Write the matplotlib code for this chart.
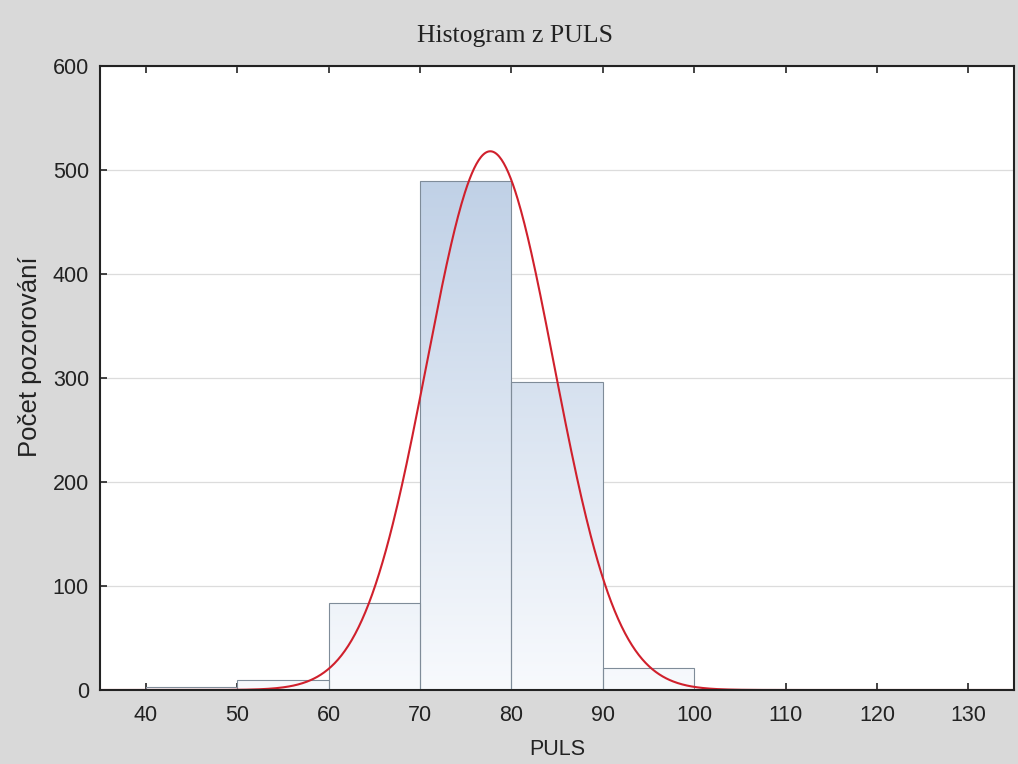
import numpy as np
import matplotlib
matplotlib.use("Agg")
import matplotlib.pyplot as plt
from matplotlib.colors import LinearSegmentedColormap

# Data
bin_edges = [40, 50, 60, 70, 80, 90, 100]
counts = [3, 10, 84, 489, 296, 21]
fit_mean = 77.7
fit_sd = 6.95
fit_peak = 518
x_ticks = [40, 50, 60, 70, 80, 90, 100, 110, 120, 130]
y_ticks = [0, 100, 200, 300, 400, 500, 600]

fig = plt.figure(figsize=(10.18, 7.64), dpi=100, facecolor="#d9d9d9")
ax = fig.add_axes([100/1018, 1-690/764, 914/1018, 624/764])
ax.set_facecolor("white")

# Gradient fill for bars
cmap = LinearSegmentedColormap.from_list("g", ["#f8fafd", "#bfd0e6"])
grad = np.linspace(0, 1, 256).reshape(-1, 1)
for i, c in enumerate(counts):
    left, right = bin_edges[i], bin_edges[i+1]
    rect = plt.Rectangle((left, 0), right-left, c, facecolor="none",
                         edgecolor="#7f8c99", linewidth=0.8, zorder=3)
    ax.add_patch(rect)
    im = ax.imshow(grad, extent=[35, 135, 0, 500], origin="lower", cmap=cmap,
                   aspect="auto", zorder=2)
    im.set_clip_path(rect)

ax.set_xlim(35, 135)
ax.set_ylim(0, 600)

# Fitted normal curve
xs = np.linspace(35, 135, 800)
ys = fit_peak * np.exp(-0.5 * ((xs - fit_mean) / fit_sd) ** 2)
ax.plot(xs, ys, color="#d0202c", linewidth=1.5, zorder=4)

ax.set_yticks(y_ticks)
ax.set_xticks(x_ticks)
ax.yaxis.grid(True, color="#dcdcdc", linewidth=0.9, zorder=0)
ax.set_axisbelow(True)
ax.tick_params(axis="x", direction="in", top=True, bottom=True, length=5,
               width=1.2, labelsize=15.5, pad=11, colors="#222222")
ax.tick_params(axis="y", direction="in", left=True, right=False, length=5,
               width=1.2, labelsize=15.5, pad=8, colors="#222222")
for lbl in ax.get_xticklabels() + ax.get_yticklabels():
    lbl.set_fontfamily("Liberation Sans")
for s in ax.spines.values():
    s.set_linewidth(1.5)
    s.set_color("#222222")
    s.set_zorder(5)

ax.set_xlabel("PULS", fontsize=15.5, fontfamily="Liberation Sans", color="#222222", labelpad=9)
fig.text(30/1018, 1-357/764, "Počet pozorování", rotation=90, ha="center", va="center",
         fontsize=18.5, fontfamily="Liberation Sans", color="#222222")
fig.text(515/1018, 1-36/764, "Histogram z PULS", ha="center", va="center",
         fontsize=18.5, fontfamily="Liberation Serif", color="#222222")

fig.savefig("out.png", dpi=100, facecolor=fig.get_facecolor())
